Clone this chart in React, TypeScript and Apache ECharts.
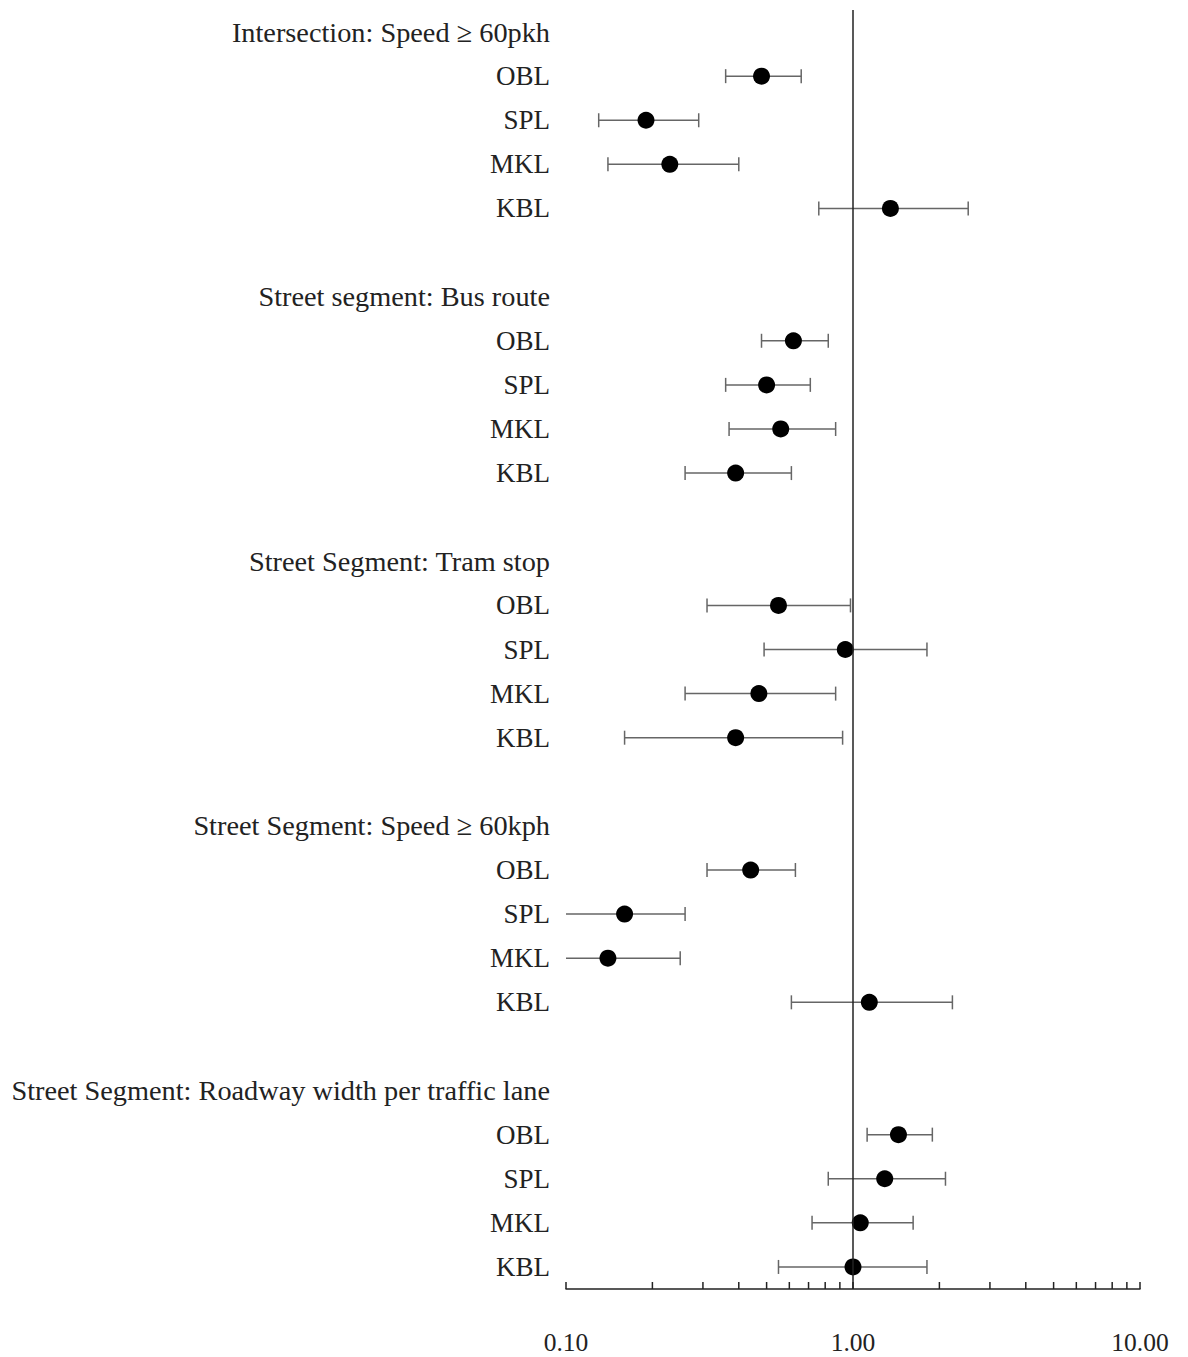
import React, { useEffect, useRef } from "react";
import * as echarts from "echarts";

const groupTitles = [
  "Intersection: Speed ≥ 60pkh",
  "Street segment: Bus route",
  "Street Segment: Tram stop",
  "Street Segment: Speed ≥ 60kph",
  "Street Segment: Roadway width per traffic lane",
];
const subgroups = ["OBL", "SPL", "MKL", "KBL"];

// odds ratios (point estimates) per group, order OBL, SPL, MKL, KBL
const estimate = [
  [0.48, 0.19, 0.23, 1.35],
  [0.62, 0.5, 0.56, 0.39],
  [0.55, 0.94, 0.47, 0.39],
  [0.44, 0.16, 0.14, 1.14],
  [1.44, 1.29, 1.06, 1.0],
];
const lower = [
  [0.36, 0.13, 0.14, 0.76],
  [0.48, 0.36, 0.37, 0.26],
  [0.31, 0.49, 0.26, 0.16],
  [0.31, 0.09, 0.09, 0.61],
  [1.12, 0.82, 0.72, 0.55],
];
const upper = [
  [0.66, 0.29, 0.4, 2.52],
  [0.82, 0.71, 0.87, 0.61],
  [0.98, 1.81, 0.87, 0.92],
  [0.63, 0.26, 0.25, 2.22],
  [1.89, 2.1, 1.62, 1.81],
];
const minorTickValues = [0.2, 0.3, 0.4, 0.5, 0.6, 0.7, 0.8, 0.9, 2, 3, 4, 5, 6, 7, 8, 9];
const xMin = 0.1;
const xMax = 10;

const FONT = "'Liberation Serif', 'Times New Roman', serif";

export default function App() {
  const ref = useRef<HTMLDivElement>(null);
  useEffect(() => {
    document.body.style.margin = "0";
    if (!ref.current) return;
    const chart = echarts.init(ref.current, null, { renderer: "svg" });

    const categories: string[] = [];
    const errData: number[][] = [];
    const ptData: number[][] = [];
    groupTitles.forEach((g, gi) => {
      if (gi > 0) categories.push(" ".repeat(gi));
      categories.push(g);
      subgroups.forEach((s, si) => {
        const idx = categories.length;
        categories.push(s);
        errData.push([idx, lower[gi][si], upper[gi][si]]);
        ptData.push([estimate[gi][si], idx]);
      });
    });

    const option: any = {
      animation: false,
      backgroundColor: "#ffffff",
      grid: { left: 566, right: 48, top: 10, bottom: 68 },
      xAxis: {
        type: "log",
        logBase: 10,
        min: xMin,
        max: xMax,
        splitNumber: 2,
        axisLine: { show: true, lineStyle: { color: "#222", width: 1.5 } },
        axisTick: { show: true, inside: true, length: 7, lineStyle: { color: "#222", width: 1.5 } },
        splitLine: { show: false },
        axisLabel: {
          margin: 40,
          fontFamily: FONT,
          fontSize: 25.5,
          color: "#222",
          formatter: (v: number) => v.toFixed(2),
        },
      },
      yAxis: {
        type: "category",
        data: categories,
        inverse: true,
        axisLine: { show: false },
        axisTick: { show: false },
        splitLine: { show: false },
        axisLabel: {
          interval: 0,
          margin: 16,
          fontFamily: FONT,
          fontSize: 27,
          color: "#222",
          formatter: (v: string) => (groupTitles.indexOf(v) >= 0 ? "{h|" + v + "}" : v),
          rich: {
            h: { fontFamily: FONT, fontSize: 28.3, color: "#222" },
          },
        },
      },
      series: [
        {
          type: "custom",
          name: "ci",
          encode: { x: [1, 2], y: 0 },
          data: errData,
          z: 2,
          renderItem: (params: any, api: any) => {
            const y = api.value(0);
            const lo = api.value(1);
            const hi = api.value(2);
            const loC = Math.max(lo, xMin);
            const p1 = api.coord([loC, y]);
            const p2 = api.coord([hi, y]);
            const cap = 7;
            const style = { stroke: "#666", lineWidth: 1.5 };
            const children: any[] = [
              { type: "line", shape: { x1: p1[0], y1: p1[1], x2: p2[0], y2: p2[1] }, style },
              { type: "line", shape: { x1: p2[0], y1: p2[1] - cap, x2: p2[0], y2: p2[1] + cap }, style },
            ];
            if (lo >= xMin) {
              children.push({
                type: "line",
                shape: { x1: p1[0], y1: p1[1] - cap, x2: p1[0], y2: p1[1] + cap },
                style,
              });
            }
            return { type: "group", children };
          },
        },
        {
          type: "scatter",
          name: "or",
          data: ptData,
          symbol: "circle",
          symbolSize: 17,
          itemStyle: { color: "#000", opacity: 1 },
          z: 4,
          markLine: {
            silent: true,
            symbol: "none",
            label: { show: false },
            lineStyle: { color: "#222", width: 1.5, type: "solid" },
            data: [{ xAxis: 1 }],
          },
        },
        {
          type: "custom",
          name: "minorTicks",
          encode: { x: 0, y: 1 },
          data: minorTickValues.map((v) => [v, 0]),
          clip: false,
          silent: true,
          renderItem: (params: any, api: any) => {
            const x = api.coord([api.value(0), 0])[0];
            const cs = params.coordSys;
            const yb = cs.y + cs.height;
            return {
              type: "line",
              shape: { x1: x, y1: yb, x2: x, y2: yb - 7 },
              style: { stroke: "#222", lineWidth: 1.5 },
            };
          },
        },
      ],
    };
    chart.setOption(option);
    return () => chart.dispose();
  }, []);
  return (
    <div
      ref={ref}
      style={{ position: "absolute", left: 0, top: 0, width: 1188, height: 1357 }}
    />
  );
}
